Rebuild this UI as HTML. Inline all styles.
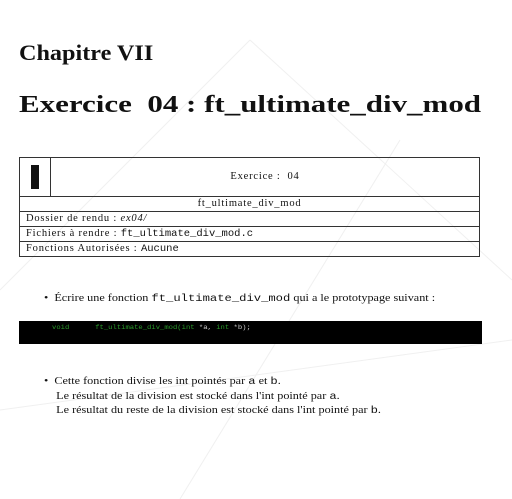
<!DOCTYPE html>
<html><head><style>
body{margin:0;width:512px;height:499px;background:#fff;position:relative;font-family:"Liberation Serif",serif;color:#111;overflow:hidden}
.a{position:absolute;white-space:nowrap;transform-origin:0 0}
.m{font-family:"Liberation Mono",monospace;letter-spacing:0}
table{position:absolute;left:19px;top:157px;width:461px;border-collapse:collapse;font-size:10.5px;letter-spacing:.8px;line-height:12px}
td{border:1px solid #333;padding:0 6px;height:14px;white-space:nowrap}
</style></head><body>
<svg class="a" style="left:0;top:0" width="512" height="499"><g stroke="#f0f0f0" stroke-width="1" fill="none">
<line x1="0" y1="290" x2="250" y2="40"/><line x1="250" y1="40" x2="512" y2="280"/><line x1="180" y1="499" x2="400" y2="140"/><line x1="0" y1="410" x2="512" y2="340"/></g></svg>
<div class="a" style="left:19px;top:40px;font-size:22px;font-weight:bold;transform:scaleX(1.1)">Chapitre VII</div>
<div class="a" style="left:19px;top:92px;font-size:24px;font-weight:bold;transform:scaleX(1.29)">Exercice&nbsp;&nbsp;04 : ft_ultimate_div_mod</div>
<table>
<tr><td style="height:38px;width:30px;padding:0"><div style="width:8px;height:24px;background:#111;margin:auto"></div></td><td style="text-align:center">Exercice :&nbsp; 04</td></tr>
<tr><td colspan="2" style="text-align:center">ft_ultimate_div_mod</td></tr>
<tr><td colspan="2">Dossier de rendu : <i>ex04/</i></td></tr>
<tr><td colspan="2">Fichiers à rendre : <span class="m">ft_ultimate_div_mod.c</span></td></tr>
<tr><td colspan="2">Fonctions Autorisées : <span class="m">Aucune</span></td></tr>
</table>
<div class="a" style="left:44px;top:293px;font-size:10.5px;transform:scaleX(1.16)">•&nbsp; Écrire une fonction <span class="m">ft_ultimate_div_mod</span> qui a le prototypage suivant :</div>
<div class="a" style="left:19px;top:321px;width:463px;height:23px;background:#000"></div>
<div class="a m" style="left:52px;top:324px;font-size:6px;color:#2a9a2a;transform:scaleX(1.2)">void&nbsp;&nbsp;&nbsp;&nbsp;&nbsp;&nbsp;ft_ultimate_div_mod(int <span style="color:#ccc">*a,</span> int <span style="color:#ccc">*b);</span></div>
<div class="a" style="left:44px;top:375px;font-size:10.5px;line-height:13.5px;transform:scaleX(1.16)">•&nbsp; Cette fonction divise les int pointés par <span class="m">a</span> et <span class="m">b</span>.<br>&nbsp;&nbsp;&nbsp;&nbsp;Le résultat de la division est stocké dans l'int pointé par <span class="m">a</span>.<br>&nbsp;&nbsp;&nbsp;&nbsp;Le résultat du reste de la division est stocké dans l'int pointé par <span class="m">b</span>.</div>
</body></html>
